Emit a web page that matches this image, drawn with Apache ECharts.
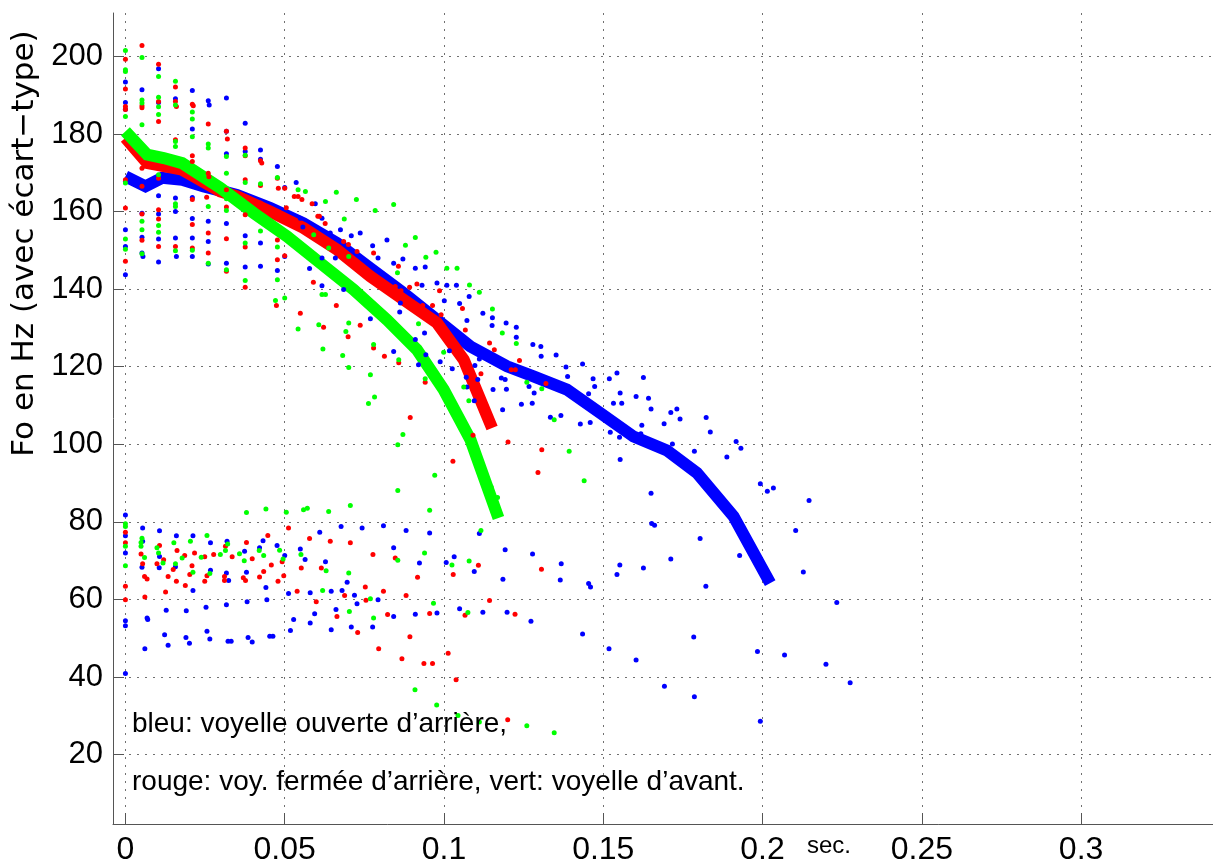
<!DOCTYPE html>
<html><head><meta charset="utf-8">
<script src="https://cdn.jsdelivr.net/npm/echarts@6/dist/echarts.min.js"></script>
<style>html,body{margin:0;padding:0;background:#fff}#c{width:1213px;height:866px}</style>
</head><body><div id="c"></div>
<script>
// ---- tick values / labels ----
const xTicks = [0, 0.05, 0.1, 0.15, 0.2, 0.25, 0.3];
const xTickLabels = ['0', '0.05', '0.1', '0.15', '0.2', '0.25', '0.3'];
const yTicks = [20, 40, 60, 80, 100, 120, 140, 160, 180, 200];

const yAxisTitle = 'Fo en Hz (avec écart\u2212type)';
const xUnitText = 'sec.';
const note1 = 'bleu: voyelle ouverte d\u2019arrière,';
const note2 = 'rouge: voy. fermée d\u2019arrière, vert: voyelle d\u2019avant.';

// ---- mean curves [sec, Hz] ----
const blueMean = [[0,169.1],[0.0063,166.5],[0.0115,168.7],[0.0178,168.2],[0.0246,166.5],[0.035,164.3],[0.0455,160.9],[0.0559,157.0],[0.0664,151.9],[0.0769,145.4],[0.0873,139.0],[0.0978,132.1],[0.1083,125.2],[0.1198,120.1],[0.1281,117.5],[0.1386,114.1],[0.149,108.1],[0.1595,102.0],[0.17,98.4],[0.1794,92.6],[0.1909,81.4],[0.2024,64.2]];
const redMean = [[0,179.0],[0.0068,172.5],[0.0178,170.8],[0.0298,165.2],[0.035,163.9],[0.0455,160.0],[0.0559,155.8],[0.0664,150.2],[0.0769,143.3],[0.0873,137.3],[0.0978,131.3],[0.1062,121.8],[0.1151,104.2]];
const greenMean = [[0,180.7],[0.0068,174.7],[0.012,173.8],[0.0178,172.5],[0.0298,166.1],[0.0403,159.6],[0.0507,153.6],[0.0612,146.7],[0.0716,139.9],[0.0821,132.1],[0.0915,124.4],[0.0999,114.1],[0.1083,101.2],[0.1171,81.0]];

// ---- individual points [sec, Hz] ----
const blueDots = [[0,193.4],[0,188.1],[0,186.4],[0,155.3],[0,151],[0,143.7],[0,81.8],[0,76.4],[0,72.0],[0,54.5],[0,53.2],[0,40.9],
[0.0052,191.4],[0.0052,159.6],[0.0052,153.4],[0.0052,149.3],[0.0055,148.4],[0.0054,78.4],[0.0054,75.0],[0.0052,68.3],[0.0061,47.3],[0.0068,55.2],[0.0070,54.8],
[0.0104,196.8],[0.0104,188.1],[0.0104,164.1],[0.0104,159.4],[0.0104,152.9],[0.0104,147.0],[0.0107,77.7],[0.0107,71.1],[0.0106,68.2],[0.0128,57.2],[0.0123,50.9],[0.0134,48.2],
[0.0157,189.1],[0.0157,163.5],[0.0157,160.0],[0.0157,153.2],[0.0160,148.4],[0.0160,76.4],[0.0157,68.4],[0.0191,57.1],[0.0190,50.2],[0.0201,48.7],[0.0212,62.3],
[0.0210,191.2],[0.0210,181.3],[0.0210,163.6],[0.0210,158.2],[0.0210,153.2],[0.0210,148.4],[0.0212,76.4],[0.0267,74.6],[0.0267,67.5],
[0.0260,188.6],[0.0263,187.5],[0.0260,157.5],[0.0260,152.3],[0.0260,146.5],[0.0253,58.0],[0.0256,51.8],[0.0265,49.8],
[0.0317,189.3],[0.0317,180.7],[0.0317,174.9],[0.0317,156.9],[0.0317,146.7],[0.0319,75.0],[0.0317,66.8],[0.0317,58.6],[0.0324,64.9],[0.0322,49.2],[0.0332,49.2],
[0.0376,182.8],[0.0376,175.5],[0.0376,153.8],[0.0376,145.7],[0.0374,72.4],[0.0380,67.0],[0.0382,59.4],[0.0385,50.2],[0.0398,49.0],
[0.0424,175.9],[0.0424,173.5],[0.0424,151.9],[0.0424,145.9],[0.0421,73.3],[0.0432,75.1],[0.0441,63.1],[0.0444,59.9],[0.0453,50.5],[0.0463,50.5],
[0.0477,171.6],[0.0477,144.8],[0.0476,73.9],[0.0500,71.3],[0.0500,166.2],[0.0500,148.4],[0.0512,61.5],[0.0518,52.0],[0.0528,54.8],
[0.0536,167.5],[0.0549,158.3],[0.0557,156.0],[0.0596,162.0],[0.0617,158.3],[0.0617,148.0],[0.0578,145.3],[0.0617,140.9],[0.0643,154.5],[0.0659,148.0],[0.0709,153.8],[0.0675,155.3],[0.0776,151.2],[0.0685,139.9],[0.0793,148.0],[0.0821,152.7],[0.0737,154.5],[0.0842,146.7],
[0.0549,73.0],[0.0564,70.3],[0.0580,61.7],[0.0594,56.3],[0.0580,53.9],[0.0610,77.3],[0.0628,69.7],[0.0646,62.1],[0.0646,52.2],[0.0661,57.4],[0.0677,78.8],[0.0680,62.3],[0.0696,64.4],[0.0719,61.1],[0.0709,52.9],[0.0727,58.9],[0.0743,78.4],[0.0776,52.9],[0.0793,59.9],[0.0810,79.0],[0.0842,55.6],[0.0842,73.3],
[0.0769,132.4],[0.0842,123.9],[0.0863,136.4],[0.0861,134.1],[0.0910,127.0],[0.0943,123.1],[0.0920,120.5],[0.0988,121.3],[0.1017,124.1],[0.1026,119.5],[0.1095,111.2],[0.1070,117.3],[0.1106,116.7],[0.1154,114.1],[0.1180,117.1],[0.1192,116.7],[0.1184,108.9],[0.0939,128.7],[0.0910,145.4],[0.0941,145.7],[0.0978,141.6],[0.1039,141.0],[0.1009,141.0],[0.1001,137.0],[0.1079,138.1],[0.1049,136.3],[0.1122,133.8],[0.1152,132.6],[0.1151,130.6],[0.1195,131.3],[0.1072,131.9],[0.0871,147.8],[0.0931,141.0],
[0.1111,122.0],[0.1097,120.3],[0.1072,114.8],[0.1196,114.2],[0.1243,110.3],[0.1277,110.6],[0.1283,113.2],[0.1267,114.9],
[0.1279,125.7],[0.1304,125.2],[0.1305,122.7],[0.1227,130.2],[0.1227,127.6],[0.1352,123.0],[0.1383,119.9],[0.1388,117.5],[0.1435,120.7],[0.1468,116.9],[0.1473,114.9],[0.1454,113.0],[0.1443,111.7],[0.1428,105.2],[0.1459,105.6],[0.1367,107.4],[0.1334,107.0],[0.1519,116.9],[0.1543,118.4],[0.1553,113.2],[0.1532,110.6],[0.1558,110.6],[0.1603,112.3],[0.1626,117.2],[0.1642,111.9],[0.1650,109.1],[0.1522,103.1],[0.1551,101.8],[0.1621,104.9],[0.1618,102.7],[0.1691,105.3],[0.1712,108.2],[0.1731,109.1],[0.1741,106.5],[0.1717,100.1],[0.1823,106.9],[0.1836,103.2],[0.1917,100.7],[0.1932,99.0],
[0.1553,96.1],[0.1786,98.2],[0.1888,96.7],[0.1650,87.4],[0.1652,79.6],[0.1661,79.1],[0.1804,75.7],[0.1712,70.4],[0.1626,68.1],[0.1928,71.3],[0.1822,63.4],[0.1993,89.8],[0.2015,87.9],[0.2034,88.7],[0.2146,85.5],[0.2104,77.8],[0.2128,67.1],[0.2233,59.2],[0.2275,38.5],[0.2199,43.3],[0.2069,45.7],[0.1984,46.6],[0.1993,28.6],[0.1784,50.3],[0.1786,34.9],[0.1692,37.6],[0.1603,44.4],[0.1518,47.3],[0.1435,51.1],[0.1552,68.9],[0.1543,66.4],[0.1454,64.1],[0.1460,63.2],[0.1368,69.2],[0.1365,65.0],[0.1278,71.7],[0.1273,54.4],[0.1198,56.7],[0.1192,72.8],[0.1185,65.2],[0.1122,56.7],[0.1111,77.0],[0.1095,67.2],[0.1049,57.6],[0.1032,71.0],[0.1007,69.5],[0.0978,56.5],[0.0955,77.1],[0.0923,69.4],[0.0910,56.2],[0.0881,77.8]];

const redDots = [[0,199.3],[0,191.6],[0,187.1],[0,186.3],[0,168.2],[0,160.9],[0,147.2],[0,77.3],[0,74.6],[0,63.4],[0,59.9],
[0.0052,202.8],[0.0052,187.3],[0.0052,186.8],[0.0052,171.2],[0.0052,166.5],[0.0052,159.4],[0.0052,152.6],[0.0049,71.7],[0.0054,69.2],[0.0060,65.9],[0.0068,65.3],[0.0061,60.6],
[0.0104,198.0],[0.0104,188.4],[0.0104,183.2],[0.0104,168.6],[0.0104,160.5],[0.0104,158.1],[0.0104,151.0],[0.0107,73.9],[0.0120,70.2],[0.0099,69.2],[0.0134,65.9],[0.0126,61.9],
[0.0157,192.1],[0.0157,188.4],[0.0160,187.1],[0.0157,178.5],[0.0157,151.0],[0.0162,72.6],[0.0150,67.7],[0.0160,64.7],[0.0188,63.6],
[0.0210,187.7],[0.0213,187.3],[0.0210,174.4],[0.0210,172.9],[0.0210,163.1],[0.0210,156.7],[0.0210,150.6],[0.0217,72.0],[0.0186,71.3],[0.0209,68.7],[0.0202,66.4],
[0.0260,182.6],[0.0260,169.9],[0.0262,169.0],[0.0255,163.7],[0.0260,154.5],[0.0260,149.3],[0.0249,71.0],[0.0277,71.6],[0.0256,66.1],[0.0249,64.7],
[0.0317,180.7],[0.0320,178.7],[0.0317,165.6],[0.0317,161.2],[0.0317,153.0],[0.0317,144.6],[0.0314,73.7],[0.0335,71.0],[0.0311,65.9],[0.0311,64.9],
[0.0376,176.4],[0.0376,174.4],[0.0376,168.2],[0.0376,159.2],[0.0376,150.9],[0.0376,140.5],[0.0380,74.7],[0.0398,70.5],[0.0370,65.6],[0.0377,64.9],
[0.0424,173.1],[0.0428,172.5],[0.0424,166.7],[0.0424,162.2],[0.0434,67.2],[0.0421,65.8],[0.0447,76.5],
[0.0477,168.6],[0.0480,166.0],[0.0477,147.6],[0.0477,152.7],[0.0458,68.9],[0.0492,69.7],[0.0497,66.1],[0.0479,64.7],
[0.0500,166.0],[0.0505,161.0],[0.0500,148.6],[0.0474,135.8],[0.0512,78.4],
[0.0530,163.9],[0.0542,163.9],[0.0554,163.1],[0.0586,162.0],[0.0604,158.8],[0.0609,158.8],[0.0627,156.9],[0.0590,141.8],[0.0685,152.3],[0.0700,151.5],[0.0727,149.7],[0.0779,149.3],[0.0857,145.9],[0.0847,140.7],
[0.0549,133.8],[0.0622,130.2],[0.0699,127.7],[0.0737,130.7],[0.0779,124.8],[0.0813,122.7],[0.0858,121.0],[0.0662,135.8],[0.0894,106.9],[0.1028,95.6],[0.1201,100.6],[0.1091,102.3],[0.0865,139.6],[0.0892,140.5],[0.0915,141.3],[0.0986,139.6],[0.1058,135.0],[0.1067,129.5],[0.1143,126.1],[0.1158,124.4],[0.0964,135.8],[0.0991,133.4],[0.0908,136.0],[0.0933,135.8],[0.0955,133.4],[0.0941,116.0],[0.1116,118.2],[0.1211,119.2],[0.1224,119.2],[0.1237,121.6],[0.1320,115.7],[0.1295,92.7],[0.1307,98.6],
[0.0539,62.1],[0.0578,75.7],[0.0643,75.0],[0.0615,68.1],[0.0552,68.1],[0.0599,59.4],[0.0664,55.6],[0.0688,61.0],[0.0729,51.5],[0.0755,59.8],[0.0795,47.3],[0.0810,62.1],[0.0823,56.1],[0.0777,71.6],[0.0847,70.7],[0.0753,63.2],[0.0706,74.6],[0.1108,68.8],[0.1029,66.4],[0.1306,67.8],[0.0917,65.7],[0.0881,61.0],[0.0955,56.4],[0.1066,55.9],[0.1143,59.7],[0.1223,56.2],[0.0893,50.4],[0.1013,46.1],[0.0868,44.7],[0.0937,43.5],[0.0964,43.5],[0.1038,39.3],[0.1200,29.0]];

const greenDots = [[0,201.5],[0,196.6],[0,196.1],[0,184.5],[0,167.4],[0,152.9],[0,150.3],[0,79.5],[0,78.8],[0,73.7],[0,68.7],
[0.0052,199.7],[0.0052,188.8],[0.0052,188.0],[0.0052,182.4],[0.0052,157.5],[0.0052,155.3],[0.0052,149.1],[0.0052,75.8],[0.0049,74.7],[0.0049,73.7],[0.0060,70.8],
[0.0104,194.8],[0.0104,189.5],[0.0104,187.0],[0.0104,185.0],[0.0104,169.5],[0.0104,156.4],[0.0104,154.7],[0.0099,73.3],[0.0104,72.0],[0.0118,69.4],
[0.0157,193.6],[0.0157,187.5],[0.0157,178.1],[0.0157,176.8],[0.0157,162.0],[0.0157,161.3],[0.0157,149.9],[0.0152,74.6],[0.0157,69.2],[0.0178,70.7],
[0.0210,185.7],[0.0210,183.9],[0.0210,179.3],[0.0210,150.0],[0.0204,75.0],[0.0212,67.0],
[0.0260,177.4],[0.0260,176.4],[0.0260,161.3],[0.0260,146.7],[0.0256,76.5],[0.0238,70.9],[0.0265,66.7],
[0.0317,174.2],[0.0317,169.9],[0.0317,163.3],[0.0317,160.3],[0.0317,145.0],[0.0298,71.6],[0.0321,74.3],[0.0314,72.6],
[0.0376,174.5],[0.0376,167.5],[0.0376,151.9],[0.0376,142.2],[0.0358,71.8],[0.0373,70.0],[0.0380,82.4],
[0.0424,167.2],[0.0424,155.0],[0.0420,72.6],[0.0434,71.3],[0.0441,83.3],
[0.0477,168.8],[0.0477,150.9],[0.0477,142.4],[0.0484,72.7],[0.0495,70.4],[0.0471,137.1],
[0.0500,137.7],[0.0505,82.5],[0.0542,165.6],[0.0565,165.2],[0.0628,162.6],[0.0638,150.6],[0.0617,138.6],[0.0628,138.6],[0.0591,154.0],[0.0662,165.0],[0.0687,158.1],[0.0725,163.1],[0.0701,148.4],[0.0784,160.3],[0.0842,161.8],[0.0854,144.2],
[0.0542,129.7],[0.0607,130.8],[0.0620,124.6],[0.0701,131.3],[0.0692,129.1],[0.0682,122.9],[0.0701,119.8],[0.0779,125.7],[0.0858,121.8],[0.0769,117.9],[0.0782,112.2],[0.0763,110.5],[0.0871,102.5],[0.0855,99.9],[0.0971,92.0],[0.0855,88.1],[0.0955,83.0],[0.0706,84.2],[0.0638,82.7],[0.0559,83.1],[0.0571,83.5],[0.1148,89.0],[0.1168,86.3],[0.0941,116.9],[0.0999,123.7],[0.1062,114.8],[0.1078,111.2],[0.0910,153.3],[0.0943,148.2],[0.0975,149.5],[0.1009,145.4],[0.1041,145.4],[0.1080,141.1],[0.1111,139.2],[0.1152,134.9],[0.1183,128.7],[0.0920,131.1],[0.0879,151.3],[0.1227,126.0],[0.1260,116.0],[0.1307,114.3],[0.1346,106.3],[0.1393,98.2],[0.1440,90.6],
[0.0619,62.3],[0.0703,56.9],[0.0769,60.2],[0.0779,55.2],[0.0855,70.1],[0.0701,66.8],[0.0551,71.6],[0.0630,67.4],[0.1116,77.8],[0.0939,72.0],[0.1025,68.9],[0.1079,69.9],[0.0967,59.0],[0.1075,56.6],[0.0909,36.7],[0.0977,32.8],[0.1044,30.1],[0.1111,28.4],[0.1260,27.4],[0.1346,25.6]];

// ---- chart ----
const BLUE = '#0000ff', RED = '#ff0000', GREEN = '#00ff00';
const AXIS = '#555555', GRID = '#707070';
const FONT = 'Liberation Sans, Arial, Helvetica, sans-serif';

function xLabel(v) {
  for (let i = 0; i < xTicks.length; i++) if (Math.abs(xTicks[i] - v) < 1e-9) return xTickLabels[i];
  return '';
}

const chart = echarts.init(document.getElementById('c'), null, {renderer: 'canvas'});
const lineSeries = (data, color) => ({
  type: 'line', data, showSymbol: false, symbol: 'none', silent: true, animation: false,
  lineStyle: {color, width: 12, cap: 'butt', join: 'miter'}, z: 2
});
const dotSeries = (data, color) => ({
  type: 'scatter', data, symbol: 'circle', symbolSize: 5, silent: true, animation: false,
  itemStyle: {color, opacity: 1}, z: 3
});

chart.setOption({
  backgroundColor: '#ffffff',
  animation: false,
  grid: {left: 113, top: 13, right: 0, bottom: 42},
  xAxis: {
    type: 'value', min: -0.0039, max: 0.3414,
    axisLine: {show: true, onZero: false, lineStyle: {color: AXIS, width: 1}},
    axisTick: {show: true, inside: true, length: 11, customValues: xTicks, lineStyle: {color: AXIS, width: 1}},
    axisLabel: {customValues: xTicks, formatter: xLabel, fontSize: 32, fontFamily: FONT, color: '#000', margin: 10},
    splitLine: {show: true, lineStyle: {color: GRID, width: 1, type: [2, 6]}}
  },
  yAxis: {
    type: 'value', min: 2.1, max: 211.2,
    axisLine: {show: true, onZero: false, lineStyle: {color: AXIS, width: 1}},
    axisTick: {show: true, inside: true, length: 11, customValues: yTicks, lineStyle: {color: AXIS, width: 1}},
    axisLabel: {customValues: yTicks, fontSize: 31, fontFamily: FONT, color: '#000', margin: 10},
    splitLine: {show: true, lineStyle: {color: GRID, width: 1, type: [2, 6]}}
  },
  series: [
    lineSeries(blueMean, BLUE),
    lineSeries(redMean, RED),
    lineSeries(greenMean, GREEN),
    dotSeries(blueDots, BLUE),
    dotSeries(redDots, RED),
    dotSeries(greenDots, GREEN)
  ],
  graphic: [
    {type: 'text', x: 24.5, y: 243.5, rotation: Math.PI / 2, silent: true,
     style: {text: yAxisTitle, fontSize: 31, fontFamily: 'DejaVu Sans', fill: '#000', align: 'center', verticalAlign: 'middle'}},
    {type: 'text', x: 807, y: 846, silent: true,
     style: {text: xUnitText, fontSize: 24, fontFamily: FONT, fill: '#000', align: 'left', verticalAlign: 'middle'}},
    {type: 'text', x: 132, y: 724, silent: true, z: 10,
     style: {text: note1, fontSize: 28, fontFamily: FONT, fill: '#000', align: 'left', verticalAlign: 'middle'}},
    {type: 'text', x: 132, y: 782, silent: true, z: 10,
     style: {text: note2, fontSize: 28, fontFamily: FONT, fill: '#000', align: 'left', verticalAlign: 'middle'}}
  ]
});
</script></body></html>
